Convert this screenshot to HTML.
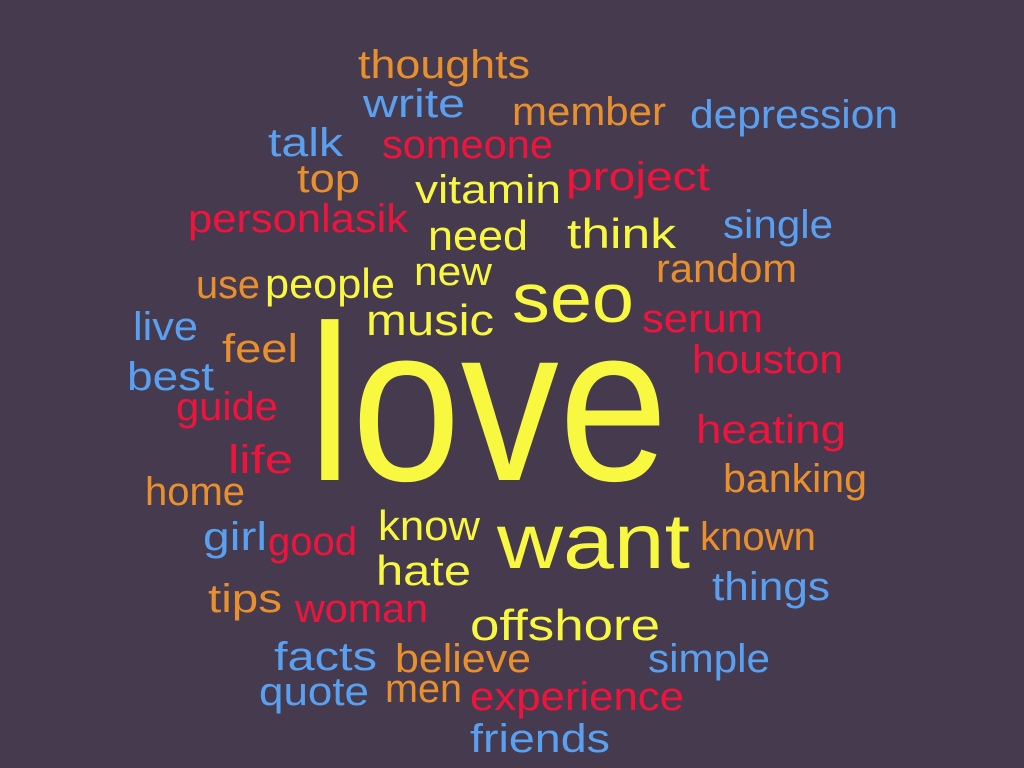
<!DOCTYPE html>
<html><head><meta charset="utf-8"><style>
html,body{margin:0;padding:0;background:#463a4f;}
svg{display:block;}
text{font-family:"Liberation Sans",sans-serif;}
</style></head><body>
<svg id="cloud" width="1024" height="768" viewBox="0 0 1024 768">
<rect width="1024" height="768" fill="#463a4f"/>
</svg>
<script>
const words = ["thoughts","write","member","depression","talk","someone","top","vitamin","project","personlasik","need","think","single","new","random","use","people","seo","music","serum","live","feel","houston","best","love","guide","heating","life","banking","home","know","want","known","girl","good","hate","things","tips","woman","offshore","facts","believe","simple","quote","men","experience","friends"];
const sizes = [40,40,40,40,40,40,40,40,40,40,42,42,40,40,40,40,42,70,44,40,40,40,40,40,222,40,40,40,40,40,42,78,40,40,40,42,40,40,40,44,40,40,40,40,40,40,40];
const colorGroup = ["o","b","o","b","b","r","o","y","r","r","y","y","b","y","o","o","y","y","y","r","b","o","r","b","y","r","r","r","o","o","y","y","o","b","r","y","b","o","r","y","b","o","b","b","o","r","b"];
// layout (left, right, baseline)
const layoutX0 = [358,363,512,690,268,382,297,415,566,188,428,567,723,414,656,196,265,512,366,642,133,222,692,127,308,176,696,228,723,145,378,497,700,203,268,376,712,208,295,470,274,395,648,259,385,470,470];
const layoutX1 = [530,465,666,898,343,553,360,561,710,408,528,676,833,492,797,260,395,634,494,763,198,298,843,214,668,278,846,293,867,245,480,690,816,267,357,471,830,282,428,660,377,531,770,369,462,684,610];
const layoutY = [78,117,125,128,156,158,192,203,190,232,250,248,238,285,282,298,298,322,335,332,340,362,373,390,480,420,443,473,492,505,540,568,550,550,555,585,600,612,622,640,670,672,672,705,702,710,752];
const palette = {o:"#e8902e",b:"#5aa0f0",r:"#f0143c",y:"#f8f840"};
const svg = document.getElementById('cloud');
const NS = "http://www.w3.org/2000/svg";
words.forEach((w,i)=>{
  const t = document.createElementNS(NS,'text');
  t.setAttribute('x', layoutX0[i]);
  t.setAttribute('y', layoutY[i]);
  t.setAttribute('font-size', sizes[i]);
  t.setAttribute('fill', palette[colorGroup[i]]);
  t.setAttribute('textLength', layoutX1[i]-layoutX0[i]);
  t.setAttribute('lengthAdjust', 'spacingAndGlyphs');
  t.textContent = w;
  
  
  svg.appendChild(t);
});
</script>
</body></html>
